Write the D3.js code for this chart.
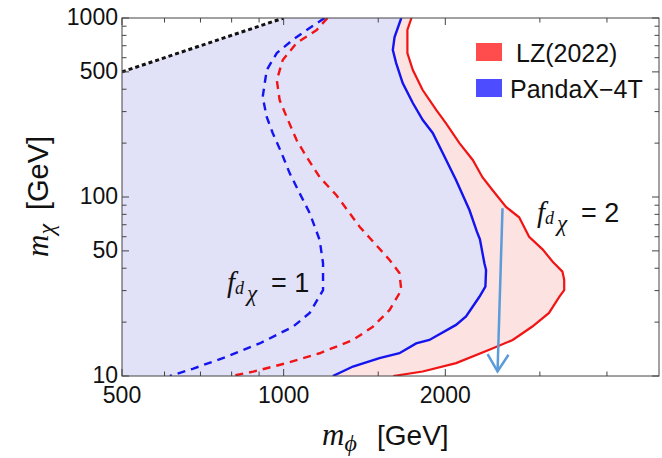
<!DOCTYPE html>
<html lang="en">
<head>
<meta charset="UTF-8">
<title>LZ vs PandaX-4T</title>
<script src="https://d3js.org/d3.v7.min.js"></script>
<style>
    body { margin: 0; background: #fff; }
    svg { display: block; }
    .tick-label { font-family: "Liberation Sans", Arial, sans-serif; font-size: 23px; fill: #111; }
    .math { font-family: "Liberation Serif", "DejaVu Serif", serif; font-style: italic; }
    .sans { font-family: "Liberation Sans", Arial, sans-serif; }
</style>
</head>
<body>
<svg id="canvas" width="662" height="458"></svg>
<script>
    // axis ticks
    const xMajor = [500, 1000, 2000];
    const xMinor = [600, 700, 800, 900, 1500, 3000, 4000];
    const yMajor = [10, 50, 100, 500, 1000];
    const yMinor = [20, 30, 40, 60, 70, 80, 90, 200, 300, 400, 600, 700, 800, 900];

    // LZ(2022), f_dchi = 2 (solid red)   [m_phi, m_chi] in GeV
    const lzSolid = [[1730,1000],[1700,857],[1700,689],[1700,637],[1740,512],[1815,396],[1925,306],
        [2005,259],[2125,200],[2250,161],[2345,129],[2450,109],[2595,88],[2745,77],[2865,60],
        [3035,51],[3170,43.5],[3305,38.3],[3330,34.4],[3330,30.2],[3260,27.7],[3120,22.5],
        [2905,18.9],[2670,15.9],[2415,14],[2095,11.8],[1815,10.6],[1600,10]];

    // PandaX-4T, f_dchi = 2 (solid blue)
    const pandaSolid = [[1656,1000],[1609,783],[1597,663],[1620,560],[1666,433],[1740,335],[1816,269],
        [1895,228],[1978,176],[2094,124.5],[2218,84.6],[2290,64],[2320,58],[2365,42.6],[2382,39.1],
        [2375,31.6],[2315,27.7],[2186,21.5],[2094,19.3],[1868,15.9],[1765,15.2],[1643,13.4],
        [1508,12.6],[1346,11.3],[1235,10]];

    // LZ(2022), f_dchi = 1 (dashed red)
    const lzDashed = [[1207,1000],[1152,857],[1057,725],[996,582],[971,450],[983,348],[1013,280],
        [1057,208],[1104,167],[1167,129],[1253,102.6],[1385,68.2],[1575,44.5],[1643,37.6],
        [1656,30.2],[1575,23.4],[1466,18.85],[1346,15.9],[1167,13.4],[1012,11.8],[877,10.57],[800,10]];

    // PandaX-4T, f_dchi = 1 (dashed blue)
    const pandaDashed = [[1192,1000],[1118,879],[1039,754],[971,637],[930,512],[914,362],[930,280],
        [954,228],[991,176],[1026,136],[1071,105],[1118,81.4],[1167,57.5],[1184,42.6],[1184,30.2],
        [1118,22.5],[1041,18.85],[902,15.2],[782,12.8],[679,11.0],[614,10]];

    // m_chi = m_phi boundary (dotted black)
    const diagonal = [[500,500],[1000,1000]];

    // arrow from f=1 to f=2 label region
    const arrowPts = [[2556,86.5],[2502,10.6]];

    const legendItems = [
        {label: "LZ(2022)", color: "#ff4d4d"},
        {label: "PandaX\u22124T", color: "#4d4dff"}
    ];

    const mLeft = 122, mRight = 659, mTop = 18, mBottom = 376;

    const x = d3.scaleLog().domain([500, 5000]).range([mLeft, mRight]);
    const y = d3.scaleLog().domain([10, 1000]).range([mBottom, mTop]);

    const svg = d3.select("#canvas");

    svg.append("defs").append("clipPath").attr("id", "plotclip")
        .append("rect").attr("x", mLeft).attr("y", mTop)
        .attr("width", mRight - mLeft).attr("height", mBottom - mTop);

    const plot = svg.append("g").attr("clip-path", "url(#plotclip)");

    const line = d3.line().x(d => x(d[0])).y(d => y(d[1]));

    // pink region (LZ excluded) then lavender region (PandaX excluded) on top
    const corner = [[500, 10], ...diagonal, [diagonal[1][0], 1000]];
    plot.append("path")
        .attr("d", line(corner.concat(lzSolid)) + "Z")
        .attr("fill", "#fde2e2");
    plot.append("path")
        .attr("d", line(corner.concat(pandaSolid)) + "Z")
        .attr("fill", "#e1e1f8");

    plot.append("path").attr("d", line(lzDashed))
        .attr("fill", "none").attr("stroke", "#f01414").attr("stroke-width", 2.4)
        .attr("stroke-dasharray", "8,6");
    plot.append("path").attr("d", line(pandaDashed))
        .attr("fill", "none").attr("stroke", "#1414ee").attr("stroke-width", 2.4)
        .attr("stroke-dasharray", "8,6");
    plot.append("path").attr("d", line(lzSolid))
        .attr("fill", "none").attr("stroke", "#f01414").attr("stroke-width", 2.2);
    plot.append("path").attr("d", line(pandaSolid))
        .attr("fill", "none").attr("stroke", "#1414ee").attr("stroke-width", 2.4);
    plot.append("path").attr("d", line(diagonal))
        .attr("fill", "none").attr("stroke", "#111").attr("stroke-width", 3)
        .attr("stroke-dasharray", "4,3");

    // arrow
    const a0 = [x(arrowPts[0][0]), y(arrowPts[0][1])];
    const a1 = [x(arrowPts[1][0]), y(arrowPts[1][1])];
    const arrowColor = "#5b9bd8";
    plot.append("line")
        .attr("x1", a0[0]).attr("y1", a0[1]).attr("x2", a1[0]).attr("y2", a1[1])
        .attr("stroke", arrowColor).attr("stroke-width", 2.5);
    const ang = Math.atan2(a1[1] - a0[1], a1[0] - a0[0]);
    const headLen = 20, headAng = 0.55;
    plot.append("path")
        .attr("d", "M" + (a1[0] - headLen * Math.cos(ang - headAng)) + "," + (a1[1] - headLen * Math.sin(ang - headAng)) +
            "L" + a1[0] + "," + a1[1] +
            "L" + (a1[0] - headLen * Math.cos(ang + headAng)) + "," + (a1[1] - headLen * Math.sin(ang + headAng)))
        .attr("fill", "none").attr("stroke", arrowColor).attr("stroke-width", 2.5);

    // frame
    svg.append("rect").attr("x", mLeft).attr("y", mTop)
        .attr("width", mRight - mLeft).attr("height", mBottom - mTop)
        .attr("fill", "none").attr("stroke", "#444").attr("stroke-width", 1);

    // ticks on all four sides
    const tickG = svg.append("g").attr("stroke", "#444").attr("stroke-width", 1);
    function xTick(v, len) {
        tickG.append("line").attr("x1", x(v)).attr("x2", x(v)).attr("y1", mBottom).attr("y2", mBottom - len);
        tickG.append("line").attr("x1", x(v)).attr("x2", x(v)).attr("y1", mTop).attr("y2", mTop + len);
    }
    function yTick(v, len) {
        tickG.append("line").attr("y1", y(v)).attr("y2", y(v)).attr("x1", mLeft).attr("x2", mLeft + len);
        tickG.append("line").attr("y1", y(v)).attr("y2", y(v)).attr("x1", mRight).attr("x2", mRight - len);
    }
    xMajor.forEach(v => xTick(v, 7));
    xMinor.forEach(v => xTick(v, 4.5));
    yMajor.forEach(v => yTick(v, 7));
    yMinor.forEach(v => yTick(v, 4.5));

    svg.selectAll(".xlab").data(xMajor).enter().append("text")
        .attr("class", "tick-label").attr("x", d => x(d)).attr("y", mBottom + 27)
        .attr("text-anchor", "middle").text(d => d);
    svg.selectAll(".ylab").data(yMajor).enter().append("text")
        .attr("class", "tick-label").attr("x", mLeft - 4).attr("y", d => y(d) + 7)
        .attr("text-anchor", "end").text(d => d);

    // axis titles
    const xt = svg.append("text").attr("x", 322).attr("y", 445).attr("fill", "#111");
    xt.append("tspan").attr("class", "math").attr("font-size", 31).text("m");
    xt.append("tspan").attr("class", "math").attr("font-size", 24).attr("dy", 6).text("\u03d5");
    xt.append("tspan").attr("class", "sans").attr("font-size", 28).attr("x", 377).attr("dy", -6).text("[GeV]");

    const yt = svg.append("text").attr("transform", "translate(48,257) rotate(-90)").attr("fill", "#111");
    yt.append("tspan").attr("class", "math").attr("font-size", 31).text("m");
    yt.append("tspan").attr("class", "math").attr("font-size", 24).attr("dy", 6).text("\u03c7");
    yt.append("tspan").attr("class", "sans").attr("font-size", 29).attr("x", 47).attr("dy", -6).text("[GeV]");

    // f labels
    function fLabel(px, py, num) {
        const t = svg.append("text").attr("x", px).attr("y", py).attr("fill", "#111");
        t.append("tspan").attr("class", "math").attr("font-size", 29).text("f");
        t.append("tspan").attr("class", "math").attr("font-size", 18).attr("dy", 2).text("d");
        t.append("tspan").attr("class", "math").attr("font-size", 23).attr("dx", 3).attr("dy", 7).text("\u03c7");
        t.append("tspan").attr("class", "sans").attr("font-size", 27).attr("x", px + 44).attr("dy", -9).text("= " + num);
    }
    fLabel(537, 222, 2);
    fLabel(227, 292, 1);

    // legend
    const leg = svg.append("g");
    legendItems.forEach((d, i) => {
        leg.append("rect").attr("x", 476).attr("y", 43 + i * 36)
            .attr("width", 26).attr("height", 18).attr("fill", d.color);
        leg.append("text").attr("class", "sans").attr("font-size", 25).attr("fill", "#111")
            .attr("x", 510 + (i === 0 ? 6 : 0)).attr("y", 62 + i * 36).text(d.label);
    });
</script>
</body>
</html>
